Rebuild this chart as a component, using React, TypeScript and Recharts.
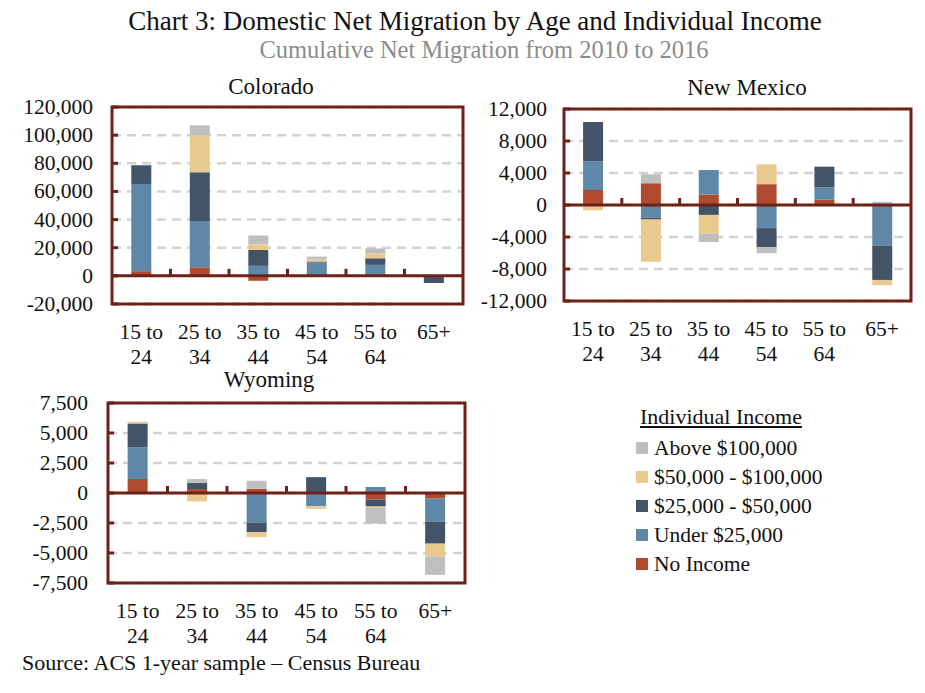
import { BarChart, Bar, XAxis, YAxis, CartesianGrid, ReferenceLine, ReferenceArea } from "recharts";

const FONT = '"Liberation Serif", "Times New Roman", serif';
const BORDER = "#6d2219";
const GRID = "#d3d3d3";

// age groups (x categories)
const ageGroups = ["15 to 24", "25 to 34", "35 to 44", "45 to 54", "55 to 64", "65+"];

// income bands, bottom of the stack first
const incomeKeys = ["noIncome", "under25k", "k25to50k", "k50to100k", "above100k"];
const incomeNames = ["No Income", "Under $25,000", "$25,000 - $50,000", "$50,000 - $100,000", "Above $100,000"];
const incomeColors = ["#b04b2f", "#5f87a7", "#435368", "#eac98f", "#bfbfbf"];

// Colorado
const coNoIncome = [3300, 6100, -3500, 0, 0, 0];
const coUnder25k = [62000, 32900, 7100, 9500, 7800, 0];
const co25to50k = [13300, 34600, 11300, 700, 4700, -5100];
const co50to100k = [0, 26100, 4000, 1600, 3500, 0];
const coAbove100k = [0, 7300, 6300, 1900, 3500, 0];
const coTicks = [-20000, 0, 20000, 40000, 60000, 80000, 100000, 120000];

// New Mexico
const nmNoIncome = [1860, 2720, 1280, 2600, 660, 0];
const nmUnder25k = [3620, -1570, 3090, -2890, 1530, -5110];
const nm25to50k = [4880, -250, -1240, -2390, 2600, -4260];
const nm50to100k = [-650, -5270, -2350, 2470, 0, -650];
const nmAbove100k = [0, 1120, -1030, -740, 0, 400];
const nmTicks = [-12000, -8000, -4000, 0, 4000, 8000, 12000];

// Wyoming
const wyNoIncome = [1160, 330, 360, 0, -550, -470];
const wyUnder25k = [2650, 0, -2480, -1110, 500, -1930];
const wy25to50k = [1990, 500, -780, 1320, -580, -1820];
const wy50to100k = [130, -700, -410, -210, -110, -1080];
const wyAbove100k = [0, 330, 660, 0, -1300, -1520];
const wyTicks = [-7500, -5000, -2500, 0, 2500, 5000, 7500];

function buildRows(series: number[][]) {
  return ageGroups.map((age, i) => {
    const row: Record<string, any> = { age };
    incomeKeys.forEach((k, j) => {
      row[k] = series[j][i];
    });
    return row;
  });
}

const fmt = (v: number) => v.toLocaleString("en-US");

function AgeTick({ x, y, payload }: any) {
  const m = /^(.* to) (.*)$/.exec(payload.value);
  const lines = m ? [m[1], m[2]] : [payload.value];
  return (
    <text x={x} y={y + 35} textAnchor="middle" fontFamily={FONT} fontSize={21.5} fill="#111">
      {lines.map((l: string, i: number) => (
        <tspan key={i} x={x} dy={i === 0 ? 0 : 25}>
          {l}
        </tspan>
      ))}
    </text>
  );
}

function ValueTick({ x, y, payload, margin }: any) {
  return (
    <g>
      <text x={x} y={y} dy={7} textAnchor="end" fontFamily={FONT} fontSize={21.5} fill="#111">
        {fmt(payload.value)}
      </text>
      <line x1={x + margin} x2={x + margin + 6} y1={y} y2={y} stroke={BORDER} strokeWidth={3} />
    </g>
  );
}

function ZeroAxis({ x1, y1, x2 }: any) {
  const band = (x2 - x1) / ageGroups.length;
  return (
    <g>
      <line x1={x1} x2={x2} y1={y1} y2={y1} stroke={BORDER} strokeWidth={3} />
      {ageGroups.slice(1).map((_, i) => (
        <line
          key={i}
          x1={x1 + band * (i + 1)}
          x2={x1 + band * (i + 1)}
          y1={y1}
          y2={y1 - 7}
          stroke={BORDER}
          strokeWidth={3}
        />
      ))}
    </g>
  );
}

interface PanelProps {
  title: string;
  series: number[][];
  ticks: number[];
  left: number;
  top: number;
  width: number;
  height: number;
  margin: { top: number; right: number; bottom: number };
  yWidth: number;
  tickGap: number;
  titleX: number;
  titleY: number;
}

function StatePanel(p: PanelProps) {
  const data = buildRows(p.series);
  const lo = p.ticks[0];
  const hi = p.ticks[p.ticks.length - 1];
  return (
    <>
      <div
        style={{
          position: "absolute",
          left: p.titleX - 100,
          top: p.titleY - 10,
          width: 200,
          textAlign: "center",
          fontFamily: FONT,
          fontSize: 23,
          lineHeight: "20px",
          color: "#111",
        }}
      >
        {p.title}
      </div>
      <div style={{ position: "absolute", left: p.left, top: p.top }}>
        <BarChart
          width={p.width}
          height={p.height}
          data={data}
          stackOffset="sign"
          barCategoryGap="33%"
          margin={{ top: p.margin.top, right: p.margin.right, bottom: p.margin.bottom, left: 0 }}
        >
          <CartesianGrid vertical={false} stroke={GRID} strokeWidth={2.5} strokeDasharray="9 6" />
          <XAxis
            dataKey="age"
            height={70}
            axisLine={false}
            tickLine={false}
            tickSize={0}
            tickMargin={0}
            interval={0}
            tick={<AgeTick />}
          />
          <YAxis
            width={p.yWidth}
            domain={[lo, hi]}
            ticks={p.ticks}
            interval={0}
            axisLine={false}
            tickLine={false}
            tickSize={0}
            tickMargin={p.tickGap}
            tick={<ValueTick margin={p.tickGap} />}
          />
          {incomeKeys.map((k, j) => (
            <Bar
              key={k}
              dataKey={k}
              name={incomeNames[j]}
              stackId="a"
              fill={incomeColors[j]}
              isAnimationActive={false}
            />
          ))}
          <ReferenceLine y={0} shape={<ZeroAxis />} />
          <ReferenceArea y1={lo} y2={hi} fill="none" fillOpacity={0} stroke={BORDER} strokeWidth={3} />
        </BarChart>
      </div>
    </>
  );
}

export default function App() {
  const legendOrder = [4, 3, 2, 1, 0];
  return (
    <div
      style={{
        position: "absolute",
        left: 0,
        top: 0,
        width: 925,
        height: 693,
        background: "#fff",
        fontFamily: FONT,
        color: "#111",
      }}
    >
      <div style={{ position: "absolute", left: 0, top: 5, width: 950, textAlign: "center", fontSize: 27, lineHeight: "32px" }}>
        Chart 3: Domestic Net Migration by Age and Individual Income
      </div>
      <div
        style={{
          position: "absolute",
          left: 0,
          top: 35,
          width: 968,
          textAlign: "center",
          fontSize: 24.5,
          lineHeight: "30px",
          color: "#8c8c8c",
        }}
      >
        Cumulative Net Migration from 2010 to 2016
      </div>

      <StatePanel
        title="Colorado"
        series={[coNoIncome, coUnder25k, co25to50k, co50to100k, coAbove100k]}
        ticks={coTicks}
        left={0}
        top={80}
        width={480}
        height={300}
        margin={{ top: 27, right: 17, bottom: 6 }}
        yWidth={112}
        tickGap={19}
        titleX={271}
        titleY={87}
      />
      <StatePanel
        title="New Mexico"
        series={[nmNoIncome, nmUnder25k, nm25to50k, nm50to100k, nmAbove100k]}
        ticks={nmTicks}
        left={470}
        top={80}
        width={455}
        height={300}
        margin={{ top: 29, right: 14, bottom: 9 }}
        yWidth={94}
        tickGap={17}
        titleX={747}
        titleY={88}
      />
      <StatePanel
        title="Wyoming"
        series={[wyNoIncome, wyUnder25k, wy25to50k, wy50to100k, wyAbove100k]}
        ticks={wyTicks}
        left={0}
        top={375}
        width={480}
        height={300}
        margin={{ top: 28, right: 15, bottom: 22 }}
        yWidth={108}
        tickGap={20}
        titleX={269}
        titleY={380}
      />

      <div
        style={{
          position: "absolute",
          left: 621,
          top: 403,
          width: 200,
          textAlign: "center",
          fontSize: 22,
          lineHeight: "28px",
          textDecoration: "underline",
        }}
      >
        Individual Income
      </div>
      {legendOrder.map((j, i) => (
        <div
          key={incomeKeys[j]}
          style={{
            position: "absolute",
            left: 636,
            top: 434 + i * 29,
            height: 28,
            display: "flex",
            alignItems: "center",
            fontSize: 21.5,
            whiteSpace: "nowrap",
          }}
        >
          <span style={{ display: "inline-block", width: 12, height: 12, background: incomeColors[j], marginRight: 6 }} />
          {incomeNames[j]}
        </div>
      ))}

      <div style={{ position: "absolute", left: 22, top: 649, fontSize: 22, lineHeight: "28px" }}>
        Source: ACS 1-year sample – Census Bureau
      </div>
    </div>
  );
}
